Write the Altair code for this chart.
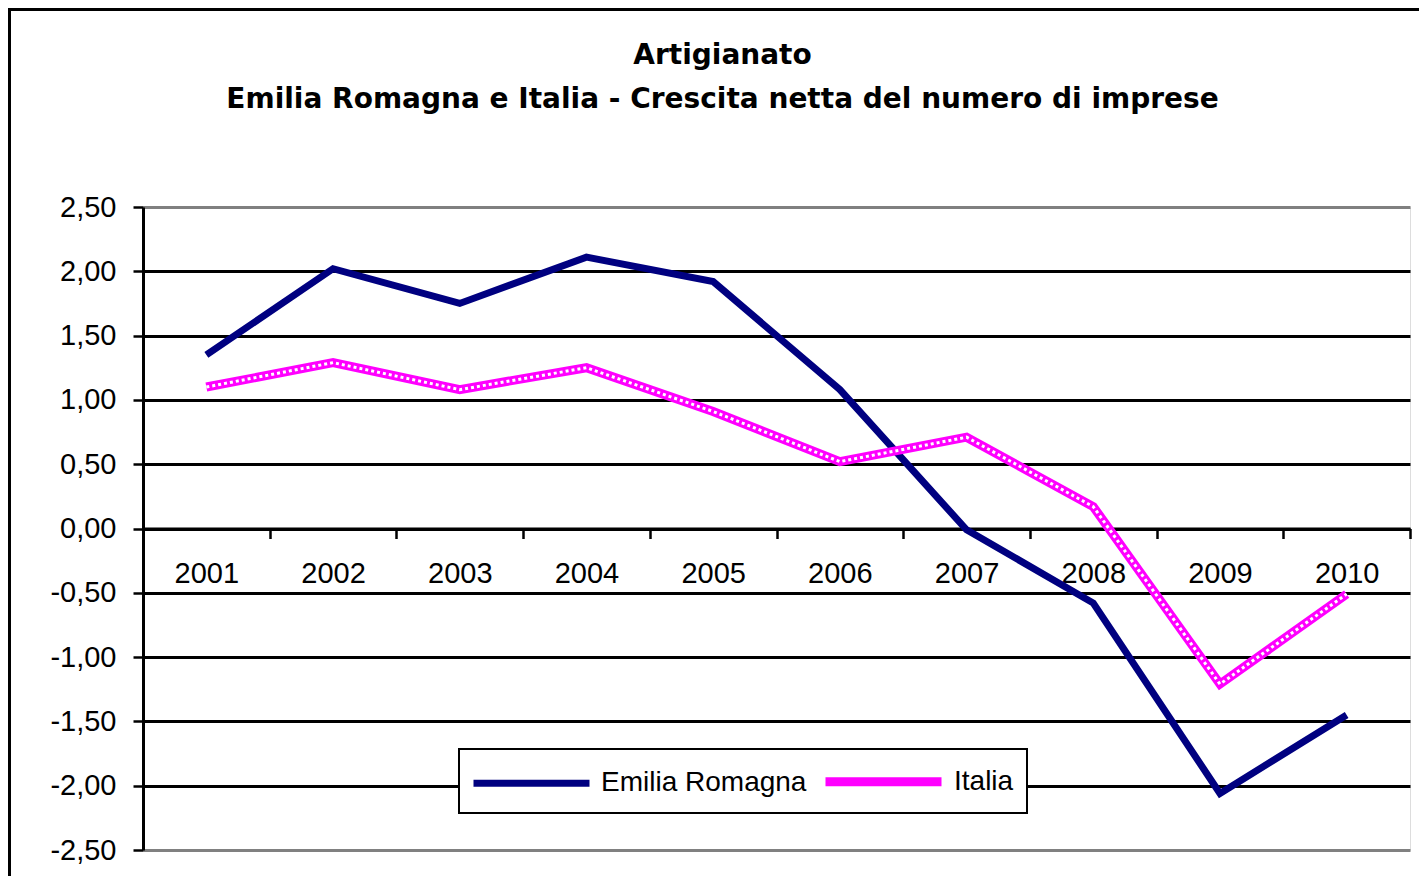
import altair as alt
import pandas as pd

anni = ["2001", "2002", "2003", "2004", "2005", "2006", "2007", "2008", "2009", "2010"]
emilia_romagna = [1.35, 2.02, 1.75, 2.11, 1.92, 1.08, -0.01, -0.58, -2.06, -1.45]
italia = [1.10, 1.29, 1.08, 1.25, 0.91, 0.52, 0.71, 0.17, -1.21, -0.51]
serie = ["Emilia Romagna", "Italia"]
y_ticks = [-2.5, -2.0, -1.5, -1.0, -0.5, 0.0, 0.5, 1.0, 1.5, 2.0, 2.5]

rows = []
for a, v in zip(anni, emilia_romagna):
    rows.append({"anno": a, "valore": v, "serie": serie[0]})
for a, v in zip(anni, italia):
    rows.append({"anno": a, "valore": v, "serie": serie[1]})
df = pd.DataFrame(rows)

FONT = "Liberation Sans"
W, H = 1267, 643

x_enc = alt.X(
    "anno:O",
    sort=anni,
    scale=alt.Scale(type="band", paddingInner=0, paddingOuter=0),
    axis=alt.Axis(
        title=None,
        orient="bottom",
        offset=-H / 2,
        tickBand="extent",
        labelAngle=0,
        labelFontSize=29,
        labelColor="black",
        labelPadding=21,
        tickSize=10,
        tickWidth=2.5,
        tickColor="black",
        domainColor="black",
        domainWidth=3,
        grid=False,
        labelFont=FONT,
    ),
)
y_enc = alt.Y(
    "valore:Q",
    scale=alt.Scale(domain=[-2.5, 2.5], nice=False, zero=False),
    axis=alt.Axis(
        title=None,
        values=y_ticks,
        labelExpr="replace(replace(format(datum.value, '.2f'), '.', ','), '\u2212', '-')",
        labelFontSize=29,
        labelColor="black",
        labelPadding=17,
        labelFont=FONT,
        tickSize=10,
        tickWidth=2.5,
        tickColor="black",
        domainColor="black",
        domainWidth=3,
        grid=True,
        gridColor={"condition": {"test": "abs(datum.value) > 2.4", "value": "#808080"}, "value": "black"},
        gridWidth=3,
        gridOpacity=1,
    ),
)

lines = alt.Chart(df).mark_line(strokeCap="butt", strokeJoin="miter").encode(
    x=x_enc,
    y=y_enc,
    color=alt.Color(
        "serie:N",
        sort=serie,
        scale=alt.Scale(domain=serie, range=["#000080", "#FF00FF"]),
        legend=alt.Legend(
            title=None,
            orient="none",
            legendX=316,
            legendY=542,
            direction="horizontal",
            symbolType="M-3.867,0H3.867",
            symbolSize=900,
            symbolStrokeWidth=8,
            symbolOffset=41,
            labelFontSize=28,
            labelFont=FONT,
            labelColor="black",
            labelOffset=51,
            labelLimit=400,
            columnPadding=0,
            padding=13,
            strokeColor="black",
            fillColor="white",
        ),
    ),
    strokeWidth=alt.StrokeWidth(
        "serie:N", scale=alt.Scale(domain=serie, range=[7, 9]), legend=None
    ),
)

pattern = alt.Chart(df).transform_filter(alt.datum.serie == "Italia").mark_line(
    color="white", strokeWidth=3, strokeDash=[3, 3], strokeCap="butt"
).encode(x=x_enc, y=y_enc)

border_left = alt.Chart(df).mark_rule(color="black", strokeWidth=3).encode(
    x=alt.value(-133.5), y=alt.value(-199), y2=alt.value(H + 40)
)
border_top = alt.Chart(df).mark_rule(color="black", strokeWidth=3).encode(
    x=alt.value(-135), x2=alt.value(W + 20), y=alt.value(-197.5)
)

chart = alt.layer(lines, pattern, border_left, border_top).properties(
    width=W,
    height=H,
    autosize=alt.AutoSizeParams(type="none"),
    padding={"left": 135, "top": 199, "right": 9, "bottom": 26},
    title=alt.TitleParams(
        ["Artigianato", "Emilia Romagna e Italia - Crescita netta del numero di imprese"],
        anchor="middle",
        frame="group",
        dx=-54,
        offset=-129,
        baseline="alphabetic",
        fontSize=28,
        font="DejaVu Sans",
        fontWeight="bold",
        color="black",
        lineHeight=44,
    ),
).configure_view(stroke="#808080", strokeWidth=3).configure(
    background="white"
).configure_legend(strokeWidth=2)

chart.save("out.html", embed_options={"renderer": "svg", "actions": False})
